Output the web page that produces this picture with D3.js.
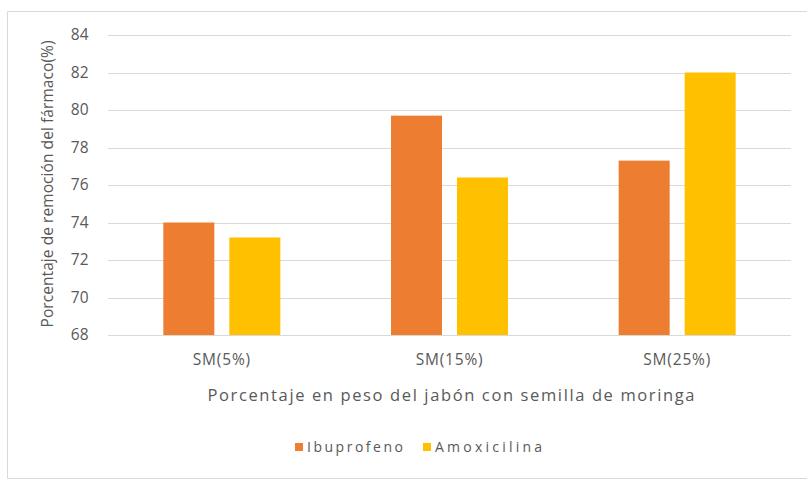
<!DOCTYPE html>
<html>
<head>
<meta charset="utf-8">
<script src="https://cdn.jsdelivr.net/npm/d3@7"></script>
<style>
  html, body { margin: 0; padding: 0; background: #fff; }
  svg { display: block; }
  text { font-family: "Open Sans", "Liberation Sans", sans-serif; fill: #595959; }
</style>
</head>
<body>
<svg id="chart" width="807" height="479"></svg>
<script>
const categories = ["SM(5%)", "SM(15%)", "SM(25%)"];
const seriesNames = ["Ibuprofeno", "Amoxicilina"];
const ibuprofeno = [74.0, 79.7, 77.3];
const amoxicilina = [73.2, 76.4, 82.0];
const yTicks = [68, 70, 72, 74, 76, 78, 80, 82, 84];
const colors = ["#ED7D31", "#FFC000"];

const svg = d3.select("#chart");
const W = 807, H = 479;

// chart frame
svg.append("path")
  .attr("d", `M${W},11.5 H7.5 V478.5 H${W}`)
  .attr("fill", "none").attr("stroke", "#D9D9D9").attr("stroke-width", 1);

const plot = { left: 108, right: 791, top: 35, bottom: 335 };

const x = d3.scaleBand().domain(categories).range([plot.left, plot.right]).paddingInner(0).paddingOuter(0);
const xInner = d3.scaleBand().domain(seriesNames).range([0, 117]).paddingInner(0.227);
const y = d3.scaleLinear().domain([68, 84]).range([plot.bottom, plot.top]);

// gridlines
svg.append("g").selectAll("line").data(yTicks).join("line")
  .attr("x1", plot.left).attr("x2", plot.right)
  .attr("y1", d => Math.round(y(d)) + 0.5).attr("y2", d => Math.round(y(d)) + 0.5)
  .attr("stroke", "#D9D9D9").attr("stroke-width", 1);

// y axis labels
const yAxis = d3.axisLeft(y).tickValues(yTicks).tickSize(0).tickPadding(0);
const yg = svg.append("g").attr("transform", `translate(89,0)`).call(yAxis);
yg.select(".domain").remove();
yg.selectAll("text").style("font-size", "15.5px").attr("fill", "#595959")
  .style("font-family", '"Open Sans", sans-serif').style("letter-spacing", "0.3px");

// bars
const data = categories.map((c, i) => ({ cat: c, vals: [ibuprofeno[i], amoxicilina[i]] }));
const groups = svg.append("g").selectAll("g").data(data).join("g")
  .attr("transform", d => `translate(${x(d.cat) + x.bandwidth() / 2 - 58.5},0)`);
groups.selectAll("rect").data(d => d.vals.map((v, j) => ({ s: seriesNames[j], v, j })))
  .join("rect")
  .attr("x", d => xInner(d.s))
  .attr("width", xInner.bandwidth())
  .attr("y", d => y(d.v))
  .attr("height", d => y(68) - y(d.v))
  .attr("fill", d => colors[d.j]);

// x axis labels
const xAxis = d3.axisBottom(x).tickSize(0).tickPadding(0);
const xg = svg.append("g").attr("transform", `translate(0,${plot.bottom + 19})`).call(xAxis);
xg.select(".domain").remove();
xg.selectAll("text").style("font-size", "15.5px").attr("fill", "#595959")
  .style("font-family", '"Open Sans", sans-serif').style("letter-spacing", "0.8px")
  .attr("dy", "0.71em");

// axis titles
svg.append("text")
  .attr("x", 451).attr("y", 401)
  .attr("text-anchor", "middle")
  .style("font-size", "16.5px")
  .attr("textLength", 487).attr("lengthAdjust", "spacing")
  .text("Porcentaje en peso del jabón con semilla de moringa");

svg.append("text")
  .attr("transform", `translate(53,184) rotate(-90)`)
  .attr("text-anchor", "middle")
  .style("font-size", "15.5px")
  .attr("textLength", 287).attr("lengthAdjust", "spacing")
  .text("Porcentaje de remoción del fármaco(%)");

// legend
const legendItems = [
  { name: seriesNames[0], color: colors[0], x: 295, tl: 96 },
  { name: seriesNames[1], color: colors[1], x: 423, tl: 107 }
];
const lg = svg.append("g").selectAll("g").data(legendItems).join("g")
  .attr("transform", d => `translate(${d.x},443)`);
lg.append("rect").attr("width", 8).attr("height", 8).attr("fill", d => d.color);
lg.append("text").attr("x", 12).attr("y", 9)
  .style("font-size", "14px")
  .attr("textLength", d => d.tl).attr("lengthAdjust", "spacing")
  .text(d => d.name);
</script>
</body>
</html>
